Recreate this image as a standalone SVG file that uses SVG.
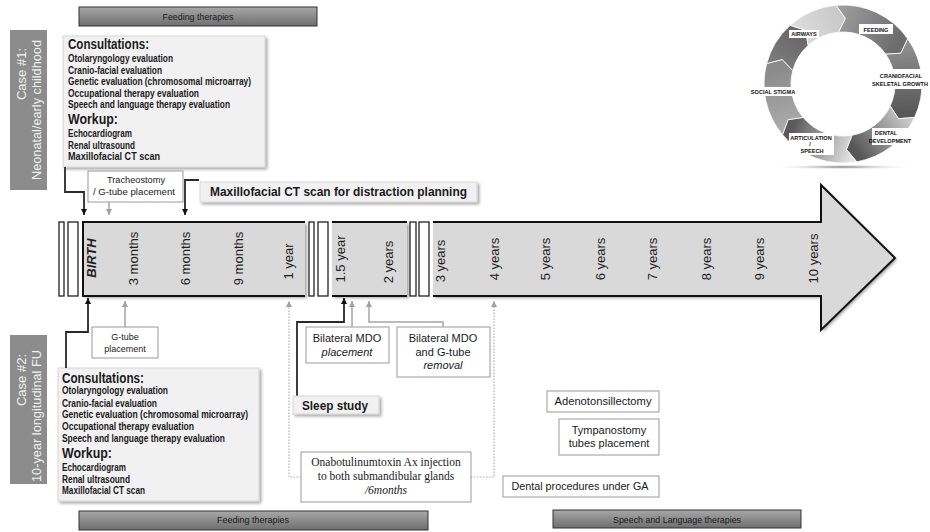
<svg xmlns="http://www.w3.org/2000/svg" width="930" height="532" viewBox="0 0 930 532">
<defs>
<style>
text{font-family:"Liberation Sans",Arial,sans-serif;fill:#1a1a1a}
.b{font-weight:bold}
.ct{font-size:10px;font-weight:bold}
.hd{font-size:14px;font-weight:bold}
.tl{font-size:13px;fill:#1e1e1e}
.sm{font-size:9px}
.md{font-size:11px}
.it{font-style:italic}
.serif{font-family:"Liberation Serif","Times New Roman",serif;font-size:11.5px}
.cl{font-size:13px;fill:#f0f0f0}
.rl{font-size:5.6px;font-weight:bold;fill:#111}
.box{fill:#fff;stroke:#9a9a9a;stroke-width:1}
.sbox{fill:#f1f1f1;stroke:#cfcfcf;stroke-width:0.8}
.bar{fill:#fff;stroke:#222;stroke-width:1.3}
.seg{fill:#d9d9d9}
.edge{stroke:#111;stroke-width:2;fill:none}
.cbk{stroke:#2a2a2a;stroke-width:1.8;fill:none}
.cgr{stroke:#a5a5a5;stroke-width:1.5;fill:none}
.cdt{stroke:#b0b0b0;stroke-width:1.2;fill:none;stroke-dasharray:1.5 1.5}
.tb{stroke:#333;stroke-width:1}
.case{fill:#8c8c8c}
</style>
<filter id="sh" x="-10%" y="-10%" width="130%" height="150%">
<feDropShadow dx="2" dy="2" stdDeviation="1.5" flood-color="#000" flood-opacity="0.35"/>
</filter>
<linearGradient id="tbg" x1="0" y1="0" x2="0" y2="1">
<stop offset="0" stop-color="#a8a8a8"/><stop offset="1" stop-color="#6e6e6e"/>
</linearGradient>
<radialGradient id="shd" cx="0.5" cy="0.5" r="0.5">
<stop offset="0" stop-color="#777"/><stop offset="1" stop-color="#fff" stop-opacity="0"/>
</radialGradient>
<linearGradient id="g1" gradientUnits="userSpaceOnUse" x1="837" y1="19" x2="897" y2="46"><stop offset="0" stop-color="#9c9c9c"/><stop offset="1" stop-color="#6c6c6c"/></linearGradient>
<linearGradient id="g2" gradientUnits="userSpaceOnUse" x1="897" y1="46" x2="902" y2="112"><stop offset="0" stop-color="#8e8e8e"/><stop offset="1" stop-color="#585858"/></linearGradient>
<linearGradient id="g3" gradientUnits="userSpaceOnUse" x1="902" y1="112" x2="854" y2="148"><stop offset="0" stop-color="#c8c8c8"/><stop offset="1" stop-color="#575757"/></linearGradient>
<linearGradient id="g4" gradientUnits="userSpaceOnUse" x1="854" y1="148" x2="793" y2="126"><stop offset="0" stop-color="#e2e2e2"/><stop offset="1" stop-color="#5a5a5a"/></linearGradient>
<linearGradient id="g5" gradientUnits="userSpaceOnUse" x1="793" y1="126" x2="780" y2="67"><stop offset="0" stop-color="#ababab"/><stop offset="1" stop-color="#8a8a8a"/></linearGradient>
<linearGradient id="g6" gradientUnits="userSpaceOnUse" x1="780" y1="67" x2="799" y2="35"><stop offset="0" stop-color="#7c7c7c"/><stop offset="1" stop-color="#686868"/></linearGradient>
<linearGradient id="g7" gradientUnits="userSpaceOnUse" x1="799" y1="35" x2="837" y2="19"><stop offset="0" stop-color="#dcdcdc"/><stop offset="1" stop-color="#cacaca"/></linearGradient>
<marker id="ab" viewBox="0 0 6 6" refX="6" refY="3" markerWidth="6" markerHeight="6" markerUnits="userSpaceOnUse" orient="auto"><path d="M0,0 L6,3 L0,6 Z" fill="#111"/></marker>
<marker id="ag" viewBox="0 0 6 6" refX="6" refY="3" markerWidth="6" markerHeight="6" markerUnits="userSpaceOnUse" orient="auto"><path d="M0,0 L6,3 L0,6 Z" fill="#a0a0a0"/></marker>
</defs>
<rect width="930" height="532" fill="#fff"/>

<!-- therapy bars -->
<g id="feeding-top">
<rect x="79" y="7" width="238" height="19" fill="url(#tbg)" class="tb"/>
<text x="198" y="20" class="sm" text-anchor="middle" textLength="71" lengthAdjust="spacingAndGlyphs">Feeding therapies</text>
</g>
<g id="feeding-bottom">
<rect x="79" y="511" width="349" height="19" fill="url(#tbg)" class="tb"/>
<text x="253" y="523" class="sm" text-anchor="middle" textLength="72" lengthAdjust="spacingAndGlyphs">Feeding therapies</text>
</g>
<g id="speech-therapies">
<rect x="553" y="510" width="248" height="18" fill="url(#tbg)" class="tb"/>
<text x="677" y="523" class="sm" text-anchor="middle" textLength="128" lengthAdjust="spacingAndGlyphs">Speech and Language therapies</text>
</g>

<!-- case labels -->
<g id="case1-label">
<rect x="10" y="30" width="37" height="160" class="case"/>
<text transform="translate(26,74) rotate(-90)" class="cl" text-anchor="middle">Case #1:</text>
<text transform="translate(41,110) rotate(-90)" class="cl" text-anchor="middle" textLength="140" lengthAdjust="spacingAndGlyphs">Neonatal/early childhood</text>
</g>
<g id="case2-label">
<rect x="10" y="335" width="37" height="149" class="case"/>
<text transform="translate(26,380) rotate(-90)" class="cl" text-anchor="middle">Case #2:</text>
<text transform="translate(41,416) rotate(-90)" class="cl" text-anchor="middle" textLength="132" lengthAdjust="spacingAndGlyphs">10-year longitudinal FU</text>
</g>

<!-- consultations boxes -->
<g id="case1-consult">
<rect x="63" y="36" width="202" height="131" class="sbox" filter="url(#sh)"/>
<text x="68" y="48.5" class="hd" textLength="81" lengthAdjust="spacingAndGlyphs">Consultations:</text>
<text x="68" y="62" class="ct" textLength="105" lengthAdjust="spacingAndGlyphs">Otolaryngology evaluation</text>
<text x="68" y="73.5" class="ct" textLength="94" lengthAdjust="spacingAndGlyphs">Cranio-facial evaluation</text>
<text x="68" y="85" class="ct" textLength="183" lengthAdjust="spacingAndGlyphs">Genetic evaluation (chromosomal microarray)</text>
<text x="68" y="96.5" class="ct" textLength="131" lengthAdjust="spacingAndGlyphs">Occupational therapy evaluation</text>
<text x="68" y="108" class="ct" textLength="162" lengthAdjust="spacingAndGlyphs">Speech and language therapy evaluation</text>
<text x="68" y="124" class="hd" textLength="50" lengthAdjust="spacingAndGlyphs">Workup:</text>
<text x="68" y="137" class="ct" textLength="64" lengthAdjust="spacingAndGlyphs">Echocardiogram</text>
<text x="68" y="148.5" class="ct" textLength="67" lengthAdjust="spacingAndGlyphs">Renal ultrasound</text>
<text x="68" y="160" class="ct" textLength="92" lengthAdjust="spacingAndGlyphs">Maxillofacial CT scan</text>
</g>
<g id="case2-consult">
<rect x="58" y="368" width="201" height="133" class="sbox" filter="url(#sh)"/>
<text x="62" y="382.7" class="hd" textLength="82" lengthAdjust="spacingAndGlyphs">Consultations:</text>
<text x="62" y="394.3" class="ct" textLength="106" lengthAdjust="spacingAndGlyphs">Otolaryngology evaluation</text>
<text x="62" y="406.5" class="ct" textLength="95" lengthAdjust="spacingAndGlyphs">Cranio-facial evaluation</text>
<text x="62" y="418.3" class="ct" textLength="186" lengthAdjust="spacingAndGlyphs">Genetic evaluation (chromosomal microarray)</text>
<text x="62" y="430" class="ct" textLength="132" lengthAdjust="spacingAndGlyphs">Occupational therapy evaluation</text>
<text x="62" y="441.7" class="ct" textLength="163" lengthAdjust="spacingAndGlyphs">Speech and language therapy evaluation</text>
<text x="62" y="457.5" class="hd" textLength="50" lengthAdjust="spacingAndGlyphs">Workup:</text>
<text x="62" y="470.7" class="ct" textLength="64" lengthAdjust="spacingAndGlyphs">Echocardiogram</text>
<text x="62" y="482.5" class="ct" textLength="68" lengthAdjust="spacingAndGlyphs">Renal ultrasound</text>
<text x="62" y="494" class="ct" textLength="83" lengthAdjust="spacingAndGlyphs">Maxillofacial CT scan</text>
</g>

<!-- timeline -->
<g id="timeline">
<g filter="url(#sh)">
<rect x="83" y="222" width="222" height="74" class="seg"/>
<rect x="332" y="222" width="75" height="74" class="seg"/>
<polygon points="433,222 821,222 821,185 895,258 821,330 821,296 433,296" class="seg"/>
</g>
<path d="M305,222 H83 V296 H305" class="edge"/>
<path d="M332,222 H407 M332,296 H407" class="edge"/>
<path d="M433,222 H821 V185 L895,258 L821,330 V296 H433" class="edge" stroke-width="1.6"/>
<rect x="59" y="222" width="5" height="74" class="bar"/>
<rect x="68" y="222" width="10" height="74" class="bar"/>
<rect x="309" y="222" width="5" height="74" class="bar"/>
<rect x="318" y="222" width="10" height="74" class="bar"/>
<rect x="410" y="222" width="6" height="74" class="bar"/>
<rect x="419" y="222" width="10" height="74" class="bar"/>
<text transform="translate(96,258) rotate(-90)" class="tl b it" text-anchor="middle">BIRTH</text>
<text transform="translate(138,258.5) rotate(-90)" class="tl" text-anchor="middle">3 months</text>
<text transform="translate(190,258.5) rotate(-90)" class="tl" text-anchor="middle">6 months</text>
<text transform="translate(243,258.5) rotate(-90)" class="tl" text-anchor="middle">9 months</text>
<text transform="translate(293,261.5) rotate(-90)" class="tl" text-anchor="middle">1 year</text>
<text transform="translate(345,259) rotate(-90)" class="tl" text-anchor="middle">1.5 year</text>
<text transform="translate(393,262) rotate(-90)" class="tl" text-anchor="middle">2 years</text>
<text transform="translate(445,261) rotate(-90)" class="tl" text-anchor="middle">3 years</text>
<text transform="translate(499,259) rotate(-90)" class="tl" text-anchor="middle">4 years</text>
<text transform="translate(550,259) rotate(-90)" class="tl" text-anchor="middle">5 years</text>
<text transform="translate(605,259) rotate(-90)" class="tl" text-anchor="middle">6 years</text>
<text transform="translate(657,259) rotate(-90)" class="tl" text-anchor="middle">7 years</text>
<text transform="translate(711,259) rotate(-90)" class="tl" text-anchor="middle">8 years</text>
<text transform="translate(764,259) rotate(-90)" class="tl" text-anchor="middle">9 years</text>
<text transform="translate(818,258.5) rotate(-90)" class="tl" text-anchor="middle">10 years</text>
</g>

<!-- connectors -->
<g id="connectors">
<path d="M65,167 V192 H84 V215" class="cbk" marker-end="url(#ab)"/>
<path d="M199,180 H185 V215" class="cbk" marker-end="url(#ab)"/>
<path d="M109,202 V215" class="cgr" marker-end="url(#ag)"/>
<path d="M66,368 V332 H88 V298" class="cbk" marker-end="url(#ab)"/>
<path d="M125,327 V301" class="cgr" marker-end="url(#ag)"/>
<path d="M297,396 V322 H344 V298" class="cbk" marker-end="url(#ab)"/>
<path d="M352,327 V301" class="cgr" marker-end="url(#ag)"/>
<path d="M443,327 V322 H369 V301" class="cgr" marker-end="url(#ag)"/>
<path d="M301,477 H289 V301" class="cdt" marker-end="url(#ag)"/>
<path d="M471,477 H494 V301" class="cdt" marker-end="url(#ag)"/>
</g>

<!-- event nodes -->
<g id="trach">
<rect x="88" y="171" width="95" height="31" class="box"/>
<text x="136" y="183" class="sm" text-anchor="middle" textLength="58" lengthAdjust="spacingAndGlyphs">Tracheostomy</text>
<text x="134" y="195" class="sm" text-anchor="middle" textLength="82" lengthAdjust="spacingAndGlyphs">/ G-tube placement</text>
</g>
<g id="ct-planning">
<rect x="200" y="182" width="277" height="20" class="sbox" filter="url(#sh)"/>
<text x="210" y="196" class="b" font-size="13" textLength="257" lengthAdjust="spacingAndGlyphs">Maxillofacial CT scan for distraction planning</text>
</g>
<g id="gtube">
<rect x="92" y="327" width="66" height="31" class="box"/>
<text x="125" y="340" class="sm" text-anchor="middle">G-tube</text>
<text x="125" y="351.7" class="sm" text-anchor="middle">placement</text>
</g>
<g id="mdo-placement">
<rect x="306" y="327" width="83" height="36" class="box"/>
<text x="347" y="342" class="md" text-anchor="middle">Bilateral MDO</text>
<text x="347" y="355.7" class="md it" text-anchor="middle">placement</text>
</g>
<g id="mdo-removal">
<rect x="397" y="327" width="93" height="50" class="box"/>
<text x="443" y="342" class="md" text-anchor="middle">Bilateral MDO</text>
<text x="443" y="355.5" class="md" text-anchor="middle">and G-tube</text>
<text x="443" y="369" class="md it" text-anchor="middle">removal</text>
</g>
<g id="sleep-study">
<rect x="293" y="396" width="86" height="18" class="sbox" filter="url(#sh)"/>
<text x="302" y="409.5" class="b" font-size="13" textLength="66" lengthAdjust="spacingAndGlyphs">Sleep study</text>
</g>
<g id="botox">
<rect x="301" y="452" width="170" height="50" class="box"/>
<text x="386" y="466" class="serif" text-anchor="middle">Onabotulinumtoxin Ax injection</text>
<text x="386" y="480" class="serif" text-anchor="middle">to both submandibular glands</text>
<text x="386" y="493.5" class="serif it" text-anchor="middle">/6months</text>
</g>
<g id="adenotonsillectomy">
<rect x="547" y="391" width="112" height="21" class="box"/>
<text x="603" y="405" class="md" text-anchor="middle" textLength="97" lengthAdjust="spacingAndGlyphs">Adenotonsillectomy</text>
</g>
<g id="tympanostomy">
<rect x="559" y="419" width="100" height="36" class="box"/>
<text x="609" y="434" class="md" text-anchor="middle">Tympanostomy</text>
<text x="609" y="446.7" class="md" text-anchor="middle">tubes placement</text>
</g>
<g id="dental">
<rect x="503" y="476" width="156" height="21" class="box"/>
<text x="580" y="489.5" class="md" text-anchor="middle" textLength="137" lengthAdjust="spacingAndGlyphs">Dental procedures under GA</text>
</g>

<!-- cycle diagram -->
<g id="cycle">
<ellipse cx="843" cy="167" rx="72" ry="2.5" fill="url(#shd)"/>
<g stroke="#fff" stroke-width="0.8">
<path d="M836.11,5.30 A79,79 0 0 1 907.72,38.69 L900.83,53.25 L885.60,54.17 A52,52 0 0 0 838.47,32.20 L845.29,18.54 Z" fill="url(#g1)"/>
<path d="M907.72,38.69 A79,79 0 0 1 914.60,117.39 L898.54,118.71 L890.13,105.98 A52,52 0 0 0 885.60,54.17 L900.83,53.25 Z" fill="url(#g2)"/>
<path d="M914.60,117.39 A79,79 0 0 1 856.71,161.80 L846.43,149.41 L852.03,135.21 A52,52 0 0 0 890.13,105.98 L898.54,118.71 Z" fill="url(#g3)"/>
<path d="M856.71,161.80 A79,79 0 0 1 782.49,134.78 L788.07,119.67 L803.17,117.43 A52,52 0 0 0 852.03,135.21 L846.43,149.41 Z" fill="url(#g4)"/>
<path d="M782.49,134.78 A79,79 0 0 1 766.69,63.55 L782.27,59.46 L792.77,70.54 A52,52 0 0 0 803.17,117.43 L788.07,119.67 Z" fill="url(#g5)"/>
<path d="M766.69,63.55 A79,79 0 0 1 790.14,25.30 L805.43,30.34 L808.21,45.36 A52,52 0 0 0 792.77,70.54 L782.27,59.46 Z" fill="url(#g6)"/>
<path d="M790.14,25.30 A79,79 0 0 1 836.11,5.30 L845.29,18.54 L838.47,32.20 A52,52 0 0 0 808.21,45.36 L805.43,30.34 Z" fill="url(#g7)"/>
</g>
<g fill="#fff">
<rect x="859" y="24" width="34" height="10"/>
<rect x="873" y="69" width="54" height="20"/>
<rect x="872" y="128" width="37" height="17"/>
<rect x="789" y="133" width="45" height="22"/>
<rect x="751" y="87" width="44" height="9"/>
<rect x="789" y="30" width="30" height="8"/>
</g>
<text x="876" y="31.5" class="rl" text-anchor="middle">FEEDING</text>
<text x="901" y="77.5" class="rl" text-anchor="middle">CRANIOFACIAL</text>
<text x="900" y="86" class="rl" text-anchor="middle">SKELETAL GROWTH</text>
<text x="886" y="135" class="rl" text-anchor="middle">DENTAL</text>
<text x="890" y="143" class="rl" text-anchor="middle">DEVELOPMENT</text>
<text x="811" y="139.5" class="rl" text-anchor="middle">ARTICULATION</text>
<text x="810" y="146" class="rl" text-anchor="middle">/</text>
<text x="812" y="153" class="rl" text-anchor="middle">SPEECH</text>
<text x="773" y="93.5" class="rl" text-anchor="middle">SOCIAL STIGMA</text>
<text x="804" y="36" class="rl" text-anchor="middle">AIRWAYS</text>
</g>
</svg>
